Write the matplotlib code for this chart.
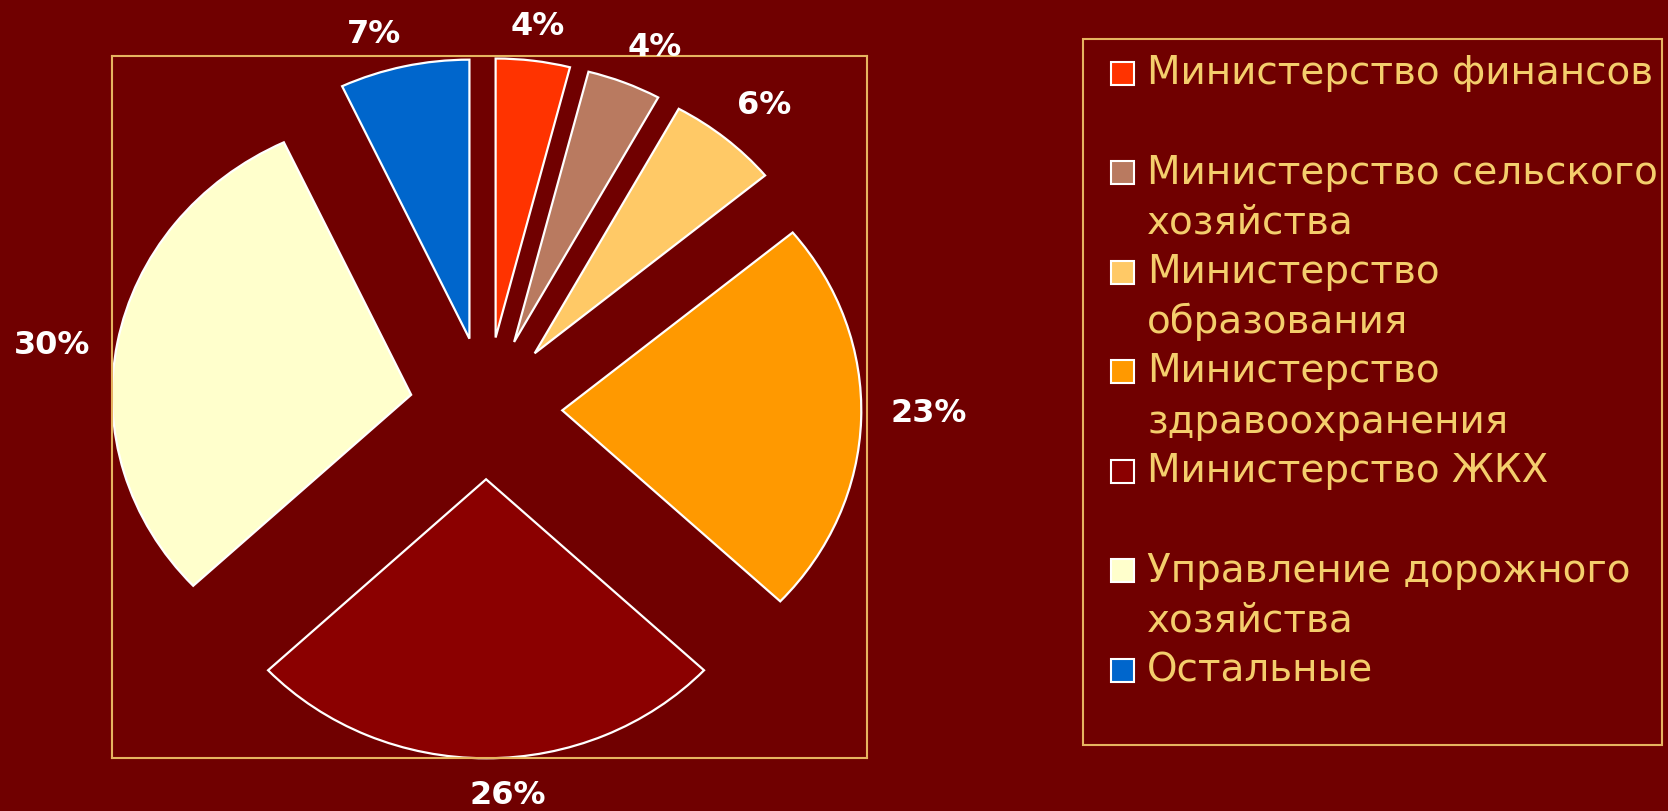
"""Exploded pie: budget shares by department, with a slide-style legend on the right."""

import numpy as np
import matplotlib.pyplot as plt
from matplotlib.patches import Rectangle

categories = [
    "Министерство финансов",
    "Министерство сельского\nхозяйства",
    "Министерство\nобразования",
    "Министерство\nздравоохранения",
    "Министерство ЖКХ",
    "Управление дорожного\nхозяйства",
    "Остальные",
]
shares = [4, 4, 6, 23, 26, 30, 7]
colors = ["#FF3300", "#B97A60", "#FFC966", "#FF9900", "#8B0000", "#FFFFCC", "#0066CC"]

BG = "#700000"
FRAME = "#E6B460"
TEXT = "#F4CE6C"

# label placement relative to each wedge: distance (radii) and angle nudge (deg)
label_dist = [1.38, 1.41, 1.43, 1.48, 1.39, 1.47, 1.39]
label_shift = [0, -2, -1, 1, 3, 2, 3]

W, H = 1668, 811
fig = plt.figure(figsize=(W / 100, H / 100), dpi=100, facecolor=BG)

# plot area box in pixels: x 112..867, y 56..758 (from top)
ax = fig.add_axes([112 / W, 1 - 758 / H, 755 / W, 702 / H])
ax.set_facecolor(BG)

wedges, _ = ax.pie(
    shares,
    colors=colors,
    explode=[0.255] * len(shares),
    startangle=90,
    counterclock=False,
    radius=1.0,
    wedgeprops=dict(edgecolor="white", linewidth=1.6),
)
# the original pie is slightly stretched sideways (rx ~299 px, ry ~279 px)
ax.set_aspect("auto")
ax.set_xlim(-1.251, 1.274)
ax.set_ylim(-1.254, 1.262)
ax.set_frame_on(True)
ax.set_xticks([])
ax.set_yticks([])
for spine in ax.spines.values():
    spine.set_visible(True)
    spine.set_color(FRAME)
    spine.set_linewidth(1.5)

for w, v, d, s in zip(wedges, shares, label_dist, label_shift):
    mid = np.deg2rad((w.theta1 + w.theta2) / 2 + s)
    ax.text(
        d * np.cos(mid),
        d * np.sin(mid),
        f"{v}%",
        ha="center",
        va="center",
        color="white",
        fontsize=23,
        weight="bold",
        clip_on=False,
    )

# legend box, drawn by hand so every entry gets an equal two-line slot
fig.add_artist(
    Rectangle((1083 / W, 1 - 745 / H), 579 / W, 706 / H,
              transform=fig.transFigure, facecolor="none", edgecolor=FRAME, linewidth=1.5)
)
slot = 99.5
line = 50
sq = 23
for i, (name, c) in enumerate(zip(categories, colors)):
    y0 = 73 + i * slot
    fig.add_artist(
        Rectangle(((1122 - sq / 2) / W, 1 - (y0 + sq / 2) / H), sq / W, sq / H,
                  transform=fig.transFigure, facecolor=c, edgecolor="white", linewidth=1.5)
    )
    for j, part in enumerate(name.split("\n")):
        fig.text(1147 / W, 1 - (y0 + j * line) / H, part, color=TEXT,
                 fontsize=28, ha="left", va="center", family="DejaVu Sans")

fig.savefig("out.png", dpi=100, facecolor=BG)
plt.close(fig)
